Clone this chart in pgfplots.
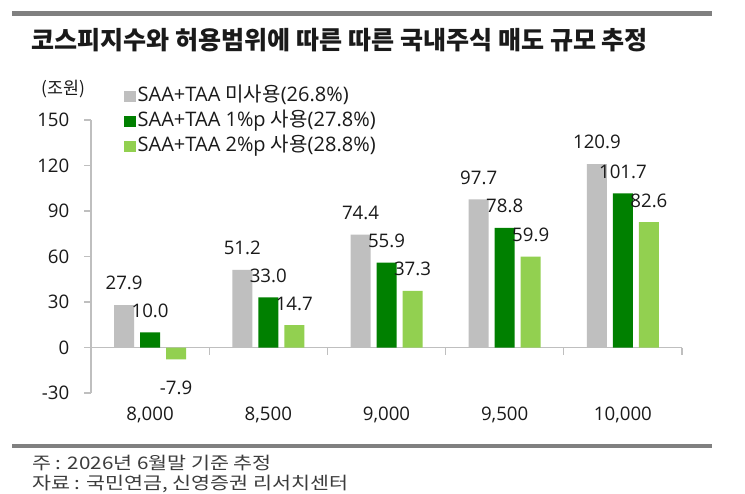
\documentclass[border=0pt]{standalone}
\usepackage{fontspec}
\usepackage{pgfplots}
\pgfplotsset{compat=1.18}
\setmainfont{Open Sans}
\newfontfamily\kr{Noto Sans CJK KR}
\newfontfamily\krwide[FakeStretch=1.19]{Noto Sans CJK KR}
\definecolor{cgray}{HTML}{BFBFBF}
\definecolor{cdark}{HTML}{008000}
\definecolor{clight}{HTML}{92D050}
\definecolor{rulegray}{HTML}{808080}
\definecolor{axisgray}{HTML}{BFBFBF}
\definecolor{txt}{HTML}{1A1A1A}
\pgfplotsset{sq legend/.style={legend image code/.code={\fill[##1] (0pt,-4.3pt) rectangle (8.6pt,4.3pt);}}}
\begin{document}
\begin{tikzpicture}[x=0.75pt,y=0.75pt]
\path[fill=white] (0,0) rectangle (745,493);
\draw[rulegray, line width=3.75pt] (12,479) -- (712,479);
\draw[rulegray, line width=3pt] (12,47) -- (712,47);
\node[anchor=west, inner sep=0, text=txt, font=\kr\bfseries\fontsize{18.8pt}{22pt}\selectfont] at (31,453) {코스피지수와 허용범위에 따른 따른 국내주식 매도 규모 추정};
\node[anchor=west, inner sep=0, text=txt!85, font=\krwide\fontsize{13pt}{15pt}\selectfont] at (32,30) {주 : 2026년 6월말 기준 추정};
\node[anchor=west, inner sep=0, text=txt!85, font=\krwide\fontsize{13pt}{15pt}\selectfont] at (32,9) {자료 : 국민연금, 신영증권 리서치센터};
\node[anchor=center, inner sep=0, text=txt, font=\kr\fontsize{13pt}{15pt}\selectfont] at (63.5,404) {(조원)};
\begin{axis}[
  at={(68.25pt,75pt)}, anchor=south west, scale only axis,
  width=443.25pt, height=204.75pt,
  ybar=4.5pt, bar width=15pt,
  xmin=-0.5, xmax=4.5, ymin=-30, ymax=150,
  ytick={-30,0,30,60,90,120,150},
  xtick={0,1,2,3,4},
  xticklabels={{8,000},{8,500},{9,000},{9,500},{10,000}},
  separate axis lines,
  axis lines*=left,
  x axis line style={draw=none},
  y axis line style={axisgray, line width=0.8pt},
  xtick style={draw=none},
  ytick style={axisgray, line width=0.8pt},
  tick align=outside,
  major tick length=5.25pt,
  tick label style={font=\fontsize{14pt}{16pt}\selectfont, text=txt},
  xticklabel style={yshift=-1.5pt},
  yticklabel style={xshift=-7.5pt},
  /pgf/number format/assume math mode=true,
  nodes near coords,
  every node near coord/.append style={font=\fontsize{14pt}{16pt}\selectfont, text=txt, inner ysep=11pt,
     /pgf/number format/.cd, fixed, fixed zerofill, precision=1, assume math mode=true},
  legend style={at={(0.049,1.13)}, anchor=north west, draw=none, fill=none,
     font=\fontsize{15pt}{17pt}\selectfont, text=txt,
     nodes={inner xsep=1.5pt, inner ysep=0pt, text height=10.8pt, text depth=3pt},
     row sep=4.9pt},
  legend cell align=left,
  clip=false,
]
\draw[axisgray, line width=0.8pt] (axis cs:-0.5,0) -- (axis cs:4.5,0);
\draw[axisgray, line width=0.8pt] (axis cs:0.5,0) -- ++(0pt,-5.25pt);
\draw[axisgray, line width=0.8pt] (axis cs:1.5,0) -- ++(0pt,-5.25pt);
\draw[axisgray, line width=0.8pt] (axis cs:2.5,0) -- ++(0pt,-5.25pt);
\draw[axisgray, line width=0.8pt] (axis cs:3.5,0) -- ++(0pt,-5.25pt);
\draw[axisgray, line width=0.8pt] (axis cs:4.5,0) -- ++(0pt,-5.25pt);
\addplot[fill=cgray, draw=none, sq legend] coordinates {(0,27.9) (1,51.2) (2,74.4) (3,97.7) (4,120.9)};
\addplot[fill=cdark, draw=none, sq legend] coordinates {(0,10.0) (1,33.0) (2,55.9) (3,78.8) (4,101.7)};
\addplot[fill=clight, draw=none, sq legend, coordinate style/.condition={y<0}{yshift=-5pt}] coordinates {(0,-7.9) (1,14.7) (2,37.3) (3,59.9) (4,82.6)};
\legend{SAA+TAA {\kr 미사용}(26.8\%), SAA+TAA 1\%p {\kr 사용}(27.8\%), SAA+TAA 2\%p {\kr 사용}(28.8\%)}
\end{axis}
\end{tikzpicture}
\end{document}
